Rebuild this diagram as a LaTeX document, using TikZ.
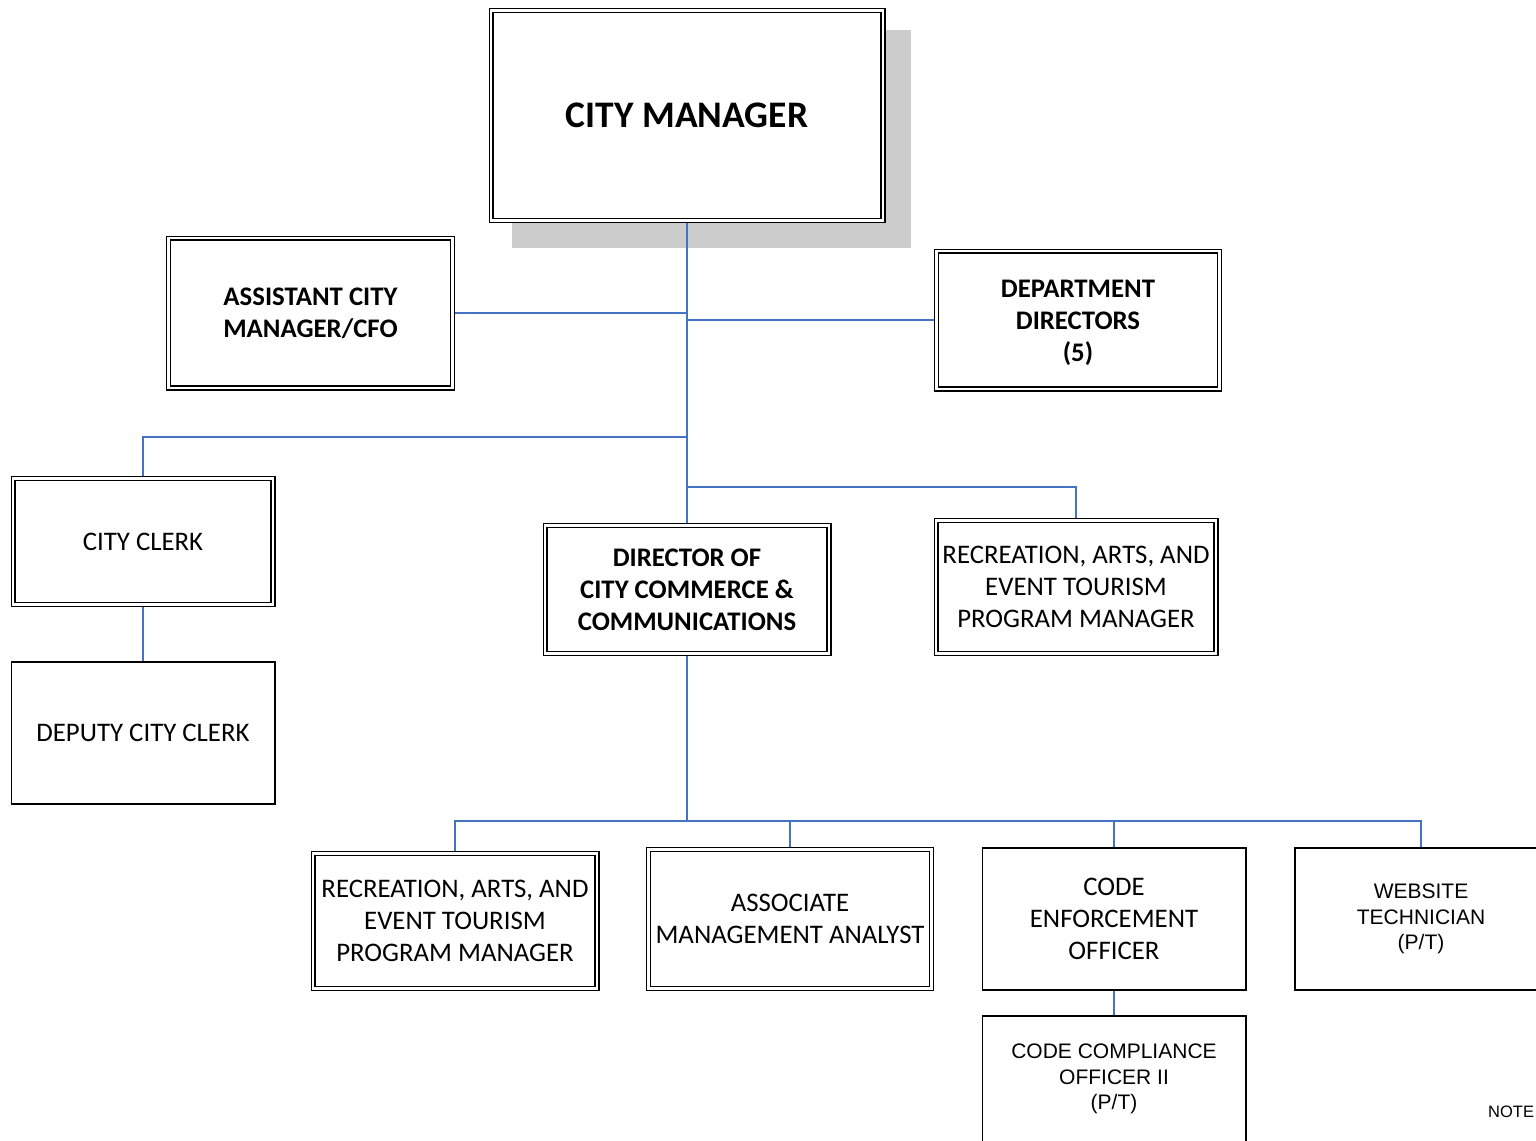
\documentclass[tikz,border=0pt]{standalone}
\usepackage{fontspec}
\setmainfont{Carlito}
\newfontfamily\arialf{Liberation Sans}
\definecolor{conn}{HTML}{4472C4}
\definecolor{shadowgray}{HTML}{CCCCCC}
\begin{document}
\begin{tikzpicture}[x=1pt,y=-1pt,
  dbl/.style={draw=black, line width=1.3pt, double=white, double distance=2.6pt,
    fill=white, inner sep=0pt, outer sep=0pt, align=center,
    font=\fontsize{26.8}{32}\selectfont},
  sgl/.style={draw=black, line width=1.6pt, fill=white, inner sep=0pt,
    outer sep=0pt, align=center, font=\fontsize{26.8}{32}\selectfont},
  boldtxt/.style={font=\bfseries\fontsize{26.8}{32}\selectfont},
  arl/.style={font=\arialf\fontsize{21}{25.5}\selectfont},
  link/.style={draw=conn, line width=2pt},
  fromd/.style={shorten <=2.6pt},
  tod/.style={shorten >=2.6pt},
  froms/.style={shorten <=0.8pt},
  tos/.style={shorten >=0.8pt}]
\useasboundingbox (0,0) rectangle (1536,1140);
\clip (0,0) rectangle (1536,1140);

% shadow of the top box
\fill[shadowgray] (512,30) rectangle (911,248);

\node[dbl, minimum width=391.8, minimum height=209.8,
  font=\bfseries\fontsize{37.5}{45}\selectfont] (cm) at (687,115.5) {CITY MANAGER};
\node[dbl, boldtxt, minimum width=283.8, minimum height=149.8]
  (acm) at (310.5,313) {ASSISTANT CITY\\MANAGER/CFO};
\node[dbl, minimum width=282.8, minimum height=137.8] (dd) at (1078,320) {};
\node[boldtxt, align=center, inner sep=0pt] (ddtext) at (1078,322.5)
  {DEPARTMENT\\DIRECTORS\\(5)};
\node[dbl, minimum width=259.8, minimum height=125.8] (clerk) at (143,541.5) {CITY CLERK};
\node[sgl, minimum width=263.4, minimum height=142.4] (dcc) at (143,733) {DEPUTY CITY CLERK};
\node[dbl, boldtxt, minimum width=283.8, minimum height=127.8]
  (dir) at (687,589.5) {DIRECTOR OF\\CITY COMMERCE \&\\COMMUNICATIONS};
\node[dbl, minimum width=279.8, minimum height=132.8] (rec1) at (1076,587)
  {RECREATION, ARTS, AND\\EVENT TOURISM\\PROGRAM MANAGER};
\node[dbl, minimum width=283.8, minimum height=134.8] (rec2) at (455,921)
  {RECREATION, ARTS, AND\\EVENT TOURISM\\PROGRAM MANAGER};
\node[dbl, minimum width=282.8, minimum height=138.8] (ama) at (790,919)
  {ASSOCIATE\\MANAGEMENT ANALYST};
\node[sgl, minimum width=263.4, minimum height=142.4] (ceo) at (1114,919)
  {CODE\\ENFORCEMENT\\OFFICER};
\node[sgl, arl, minimum width=252.4, minimum height=142.4] (web) at (1421,919)
  {WEBSITE\\TECHNICIAN\\(P/T)};
\node[sgl, arl, minimum width=263.4, minimum height=126.4] (cco) at (1114,1079)
  {CODE COMPLIANCE\\OFFICER II\\(P/T)};
\node[anchor=base west, inner sep=0pt, font=\arialf\fontsize{16.5}{20}\selectfont]
  (note) at (1488,1117) {NOTE};

% connectors
\coordinate (jclerk) at (687,437);
\coordinate (jrec) at (687,487);
\coordinate (bus) at (687,821);
\path[link, fromd, tod] (cm.south) -- (dir.north);
\path[link, fromd] (acm.east) -- (acm.east -| cm.south);
\path[link, fromd] (dd.west) -- (dd.west -| cm.south);
\path[link, tod] (jclerk) -| (clerk.north);
\path[link, fromd, tos] (clerk.south) -- (dcc.north);
\path[link, tod] (jrec) -| (rec1.north);
\path[link, fromd] (dir.south) -- (bus);
\path[link, fromd, tos] (rec2.north) |- (bus) -| (web.north);
\path[link, fromd] (ama.north) -- (ama.north |- bus);
\path[link, froms] (ceo.north) -- (ceo.north |- bus);
\path[link, froms, tos] (ceo.south) -- (cco.north);
\end{tikzpicture}
\end{document}
